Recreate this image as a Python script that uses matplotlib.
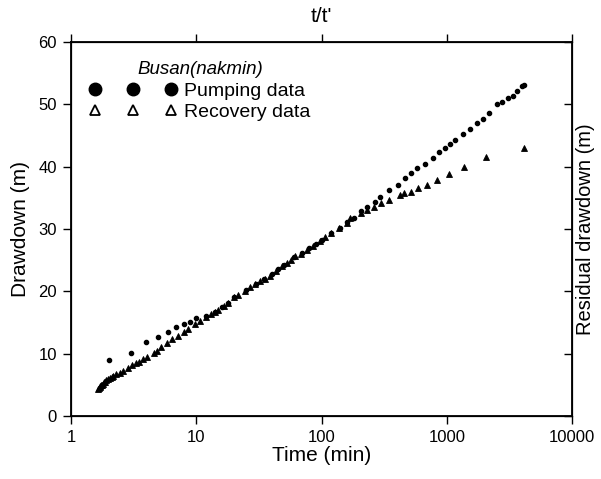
import matplotlib
matplotlib.use("Agg")
import matplotlib.pyplot as plt
from matplotlib.lines import Line2D
from matplotlib.ticker import NullLocator, FixedLocator

plt.rcParams['font.family'] = ['Liberation Sans', 'DejaVu Sans']

# Pumping data: time (min) vs drawdown (m)
pump_t = [2.02, 2.99, 3.96, 4.96, 5.97, 6.95, 8.0, 9.0, 9.9,
          12, 14, 16, 18, 20, 25, 30, 35, 40, 45, 50, 60, 70, 80, 90, 100,
          120, 140, 160, 180, 205, 230, 266, 292, 348, 405, 464, 521, 579,
          674, 771, 871, 968, 1067, 1162, 1352, 1530, 1727, 1929, 2181,
          2495, 2754, 3053, 3345, 3622, 3990, 4093]
pump_s = [9.0, 10.1, 11.8, 12.7, 13.4, 14.2, 14.8, 15.1, 15.7,
          16.0, 16.7, 17.5, 18.2, 19.1, 20.2, 21.2, 22.0, 22.8, 23.5, 24.2, 25.5, 26.1, 26.9, 27.6, 28.3,
          29.4, 30.2, 31.1, 31.8, 32.9, 33.6, 34.4, 35.2, 36.2, 37.0, 38.1, 38.9, 39.7,
          40.4, 41.4, 42.4, 43.0, 43.7, 44.2, 45.2, 46.1, 47.0, 47.7, 48.6,
          50.0, 50.3, 51.0, 51.4, 52.1, 53.0, 53.1]

# Recovery data: t/t' vs residual drawdown (m)
rec_t = [1.66, 1.68, 1.70, 1.72, 1.74, 1.77, 1.80, 1.84, 1.87, 1.92, 1.97, 2.05,
         2.11, 2.17, 2.31, 2.46, 2.61, 2.86, 3.10, 3.30, 3.50, 3.73, 4.05,
         4.59, 4.87, 5.28, 5.85, 6.46, 7.12, 7.95, 8.60, 9.73,
         10.8, 11.9, 13.0, 14.0, 14.9, 16.6, 17.9, 19.9, 21.5, 24.7, 27.0,
         29.3, 32.1, 35.2, 38.5, 43.5, 48.6, 52.9, 57.4, 61.0, 68.9, 76.4,
         85.3, 96.4, 105.6, 119.5, 139, 159, 170, 207, 231, 264, 299, 348,
         419, 459, 518, 593, 696, 836, 1033, 1377, 2051, 4145]
rec_s = [4.35, 4.5, 4.62, 4.75, 4.9, 5.05, 5.2, 5.38, 5.5, 5.7, 5.88, 6.05,
         6.22, 6.42, 6.74, 6.95, 7.22, 7.75, 8.19, 8.46, 8.72, 9.10, 9.52,
         10.16, 10.48, 11.03, 11.67, 12.31, 12.89, 13.53, 13.96, 14.72,
         15.3, 15.9, 16.4, 16.7, 17.0, 17.7, 18.1, 19.1, 19.4, 20.1, 20.7,
         21.1, 21.6, 22.0, 22.4, 23.3, 24.0, 24.5, 25.0, 25.6, 26.0, 26.6,
         27.2, 28.0, 28.7, 29.3, 30.1, 31.0, 31.7, 32.5, 33.1, 33.6, 34.1, 34.7,
         35.5, 35.7, 36.0, 36.5, 37.0, 37.8, 38.8, 40.0, 41.5, 43.0]

x_ticks = [1, 10, 100, 1000, 10000]
x_labels = ['1', '10', '100', '1000', '10000']
y_ticks = [0, 10, 20, 30, 40, 50, 60]

fig = plt.figure(figsize=(6.01, 4.79), dpi=100)
ax = fig.add_axes([0.118, 0.1315, 0.834, 0.781])

ax.plot(pump_t, pump_s, linestyle='none', marker='o', markersize=3,
        color='black', zorder=3)
ax.plot(rec_t, rec_s, linestyle='none', marker='^', markersize=4,
        markerfacecolor='black', markeredgecolor='black', markeredgewidth=0.6,
        zorder=2)

ax.set_xscale('log')
ax.set_xlim(1, 10000)
ax.set_ylim(0, 60)
ax.xaxis.set_major_locator(FixedLocator(x_ticks))
ax.set_xticklabels(x_labels)
ax.xaxis.set_minor_locator(NullLocator())
ax.set_yticks(y_ticks)
ax.tick_params(axis='both', direction='out', length=6, width=1, labelsize=12,
               pad=4)
for sp in ax.spines.values():
    sp.set_linewidth(1.3)

ax.set_xlabel('Time (min)', fontsize=15, labelpad=1)
ax.set_ylabel('Drawdown (m)', fontsize=15, labelpad=6)

# top axis
axt = ax.twiny()
axt.set_xscale('log')
axt.set_xlim(1, 10000)
axt.xaxis.set_major_locator(FixedLocator(x_ticks))
axt.xaxis.set_minor_locator(NullLocator())
axt.tick_params(axis='x', direction='out', length=6, width=1, labeltop=False)
axt.set_xlabel("t/t'", fontsize=15, labelpad=8)

# right axis
axr = ax.twinx()
axr.set_ylim(0, 60)
axr.set_yticks(y_ticks)
axr.tick_params(axis='y', direction='in', length=6, width=1, labelright=False)
axr.set_ylabel('Residual drawdown (m)', fontsize=14.5, labelpad=3)

handles = [
    Line2D([], [], linestyle='none', marker='o', markersize=9, color='black'),
    Line2D([], [], linestyle='none', marker='^', markersize=6.5,
           markerfacecolor='white', markeredgecolor='black', markeredgewidth=1.3),
]
leg = ax.legend(handles, ['Pumping data', 'Recovery data'], loc='upper left',
                bbox_to_anchor=(0.01, 0.985), frameon=False, numpoints=3,
                fontsize=14, handlelength=4.5, handletextpad=0.35,
                labelspacing=0.2, borderpad=0.2,
                title='Busan(nakmin)',
                title_fontproperties={'size': 13.5, 'style': 'italic'})
leg._legend_box.align = 'center'

fig.savefig('out.png', dpi=100)
